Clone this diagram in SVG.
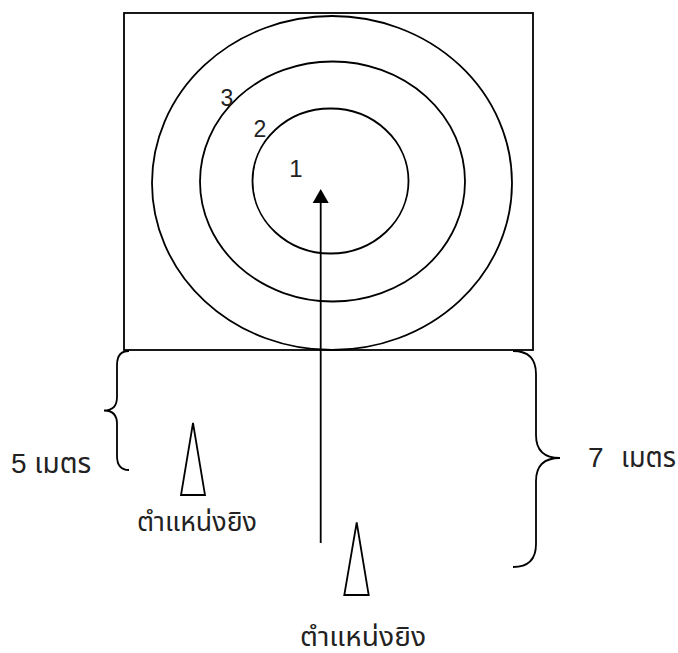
<svg xmlns="http://www.w3.org/2000/svg" width="678" height="653" viewBox="0 0 678 653">
<style>
.ln{fill:none;stroke:#000;stroke-width:1.8}
.tri{fill:#fff;stroke:#000;stroke-width:1.8;stroke-linejoin:miter}
.lbl{font-family:"Liberation Sans","Noto Sans Thai","Noto Sans",sans-serif;fill:#222;white-space:pre}
</style>
<rect width="678" height="653" fill="#fff"/>
<g id="target">
<rect class="ln" x="124" y="13" width="409" height="337"/>
<ellipse id="ring3" class="ln" cx="332" cy="183" rx="180" ry="167"/>
<ellipse id="ring2" class="ln" cx="332.5" cy="181.5" rx="132.5" ry="120"/>
<ellipse id="ring1" class="ln" cx="330.5" cy="181" rx="78" ry="72.5"/>
<text class="lbl" x="227" y="106" font-size="23" text-anchor="middle">3</text>
<text class="lbl" x="260" y="137" font-size="23" text-anchor="middle">2</text>
<text class="lbl" x="296" y="177" font-size="24" text-anchor="middle">1</text>
</g>
<g id="connectors">
<line class="ln" x1="320.7" y1="543" x2="320.7" y2="200"/>
<polygon points="320.7,189 312.7,203 328.7,203" fill="#000"/>
</g>
<g id="brace-left">
<path class="ln" d="M129,351 Q117,351 117,365 L117,397 Q117,410.5 104,410.5 Q117,410.5 117,424 L117,456 Q117,470 129,470"/>
<text class="lbl" x="11" y="473" font-size="28">5 เมตร</text>
</g>
<g id="brace-right">
<path class="ln" d="M513,351 Q536,351 536,374 L536,435 Q536,458 560,458 Q536,458 536,481 L536,544 Q536,567 513,567"/>
<text class="lbl" y="467" font-size="28"><tspan x="588">7</tspan><tspan x="621" textLength="55" lengthAdjust="spacingAndGlyphs">เมตร</tspan></text>
</g>
<g id="shooter-left">
<polygon class="tri" points="193,423 181,495 205,495"/>
<text class="lbl" x="137" y="531" font-size="27" textLength="120" lengthAdjust="spacingAndGlyphs">ตำแหน่งยิง</text>
</g>
<g id="shooter-right">
<polygon class="tri" points="356.7,522.5 344.3,595 368.7,595"/>
<text class="lbl" x="300" y="646" font-size="27" textLength="126" lengthAdjust="spacingAndGlyphs">ตำแหน่งยิง</text>
</g>
</svg>
